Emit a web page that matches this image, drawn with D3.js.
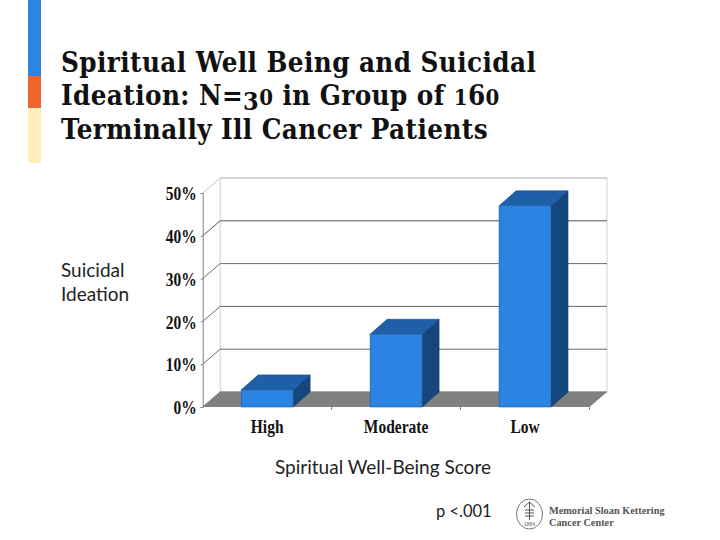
<!DOCTYPE html>
<html>
<head>
<meta charset="utf-8">
<script src="https://cdn.jsdelivr.net/npm/d3@7"></script>
<style>
  html, body { margin: 0; padding: 0; background: #fff; }
  svg { display: block; }
</style>
</head>
<body>
<script>
const categories = ["High", "Moderate", "Low"];
const values = [4, 17, 47];
const yTicks = [0, 10, 20, 30, 40, 50];
const titleLines = [
  "Spiritual Well Being and Suicidal",
  "Ideation: N=30 in Group of 160",
  "Terminally Ill Cancer Patients",
];
const yLabelLines = ["Suicidal", "Ideation"];
const xTitle = "Spiritual Well-Being Score";
const pNote = "p <.001";
const logoLines = ["Memorial Sloan Kettering", "Cancer Center"];
const logoYear = "1884";

const w = 720;
const h = 540;

const svg = d3.select("body").append("svg").attr("width", w).attr("height", h);

// side stripe
const stripe = [
  [0, 76, "#2f84dd"],
  [76, 108, "#f0652f"],
  [108, 163, "#fff0bb"],
];
svg
  .selectAll("rect.stripe")
  .data(stripe)
  .enter()
  .append("rect")
  .attr("class", "stripe")
  .attr("x", 28)
  .attr("width", 13)
  .attr("y", (d) => d[0])
  .attr("height", (d) => d[1] - d[0])
  .attr("fill", (d) => d[2]);

// title, digits are set small or dropped to look like old style figures
const title = svg
  .selectAll("text.title")
  .data(titleLines)
  .enter()
  .append("text")
  .attr("class", "title")
  .attr("x", 61)
  .attr("y", (d, i) => 72 + i * 33.3)
  .attr("font-family", "'DejaVu Serif Condensed', 'DejaVu Serif', serif")
  .attr("font-weight", "bold")
  .attr("font-size", 27.5)
  .attr("letter-spacing", 0.42)
  .attr("fill", "#111");

title.each(function (line) {
  const t = d3.select(this);
  let drop = 0;
  line.split(/(\d)/).forEach((part) => {
    if (!part) return;
    const s = t.append("tspan").text(part);
    const nextDrop = part === "3" ? 5 : 0;
    if (nextDrop !== drop) s.attr("dy", nextDrop - drop);
    drop = nextDrop;
    if (part === "0" || part === "1") s.attr("font-size", 22);
    if (part === "3") s.attr("font-size", 25);
  });
});

// scales: front plane of the 3d box
const x0 = 202.7;
const x1 = 589.5;
const xScale = d3
  .scaleBand()
  .domain(categories)
  .range([x0, x1])
  .paddingInner(0.597)
  .paddingOuter(0.2985);
const yScale = d3.scaleLinear().domain([0, 50]).range([407, 193]);

const wallDx = 17.5;
const wallDy = -15;
const barDx = 17;
const barDy = -15;

const pts = (arr) => arr.map((p) => p.join(",")).join(" ");

// squeeze the axis labels sideways, the original font is narrower
const squeeze = (sel, k) =>
  sel.each(function () {
    this.setAttribute("textLength", this.getComputedTextLength() * k);
    this.setAttribute("lengthAdjust", "spacingAndGlyphs");
  });

const chart = svg.append("g");

// back wall
chart
  .append("polygon")
  .attr("points", pts([
    [x0 + wallDx, yScale(50) + wallDy],
    [x1 + wallDx, yScale(50) + wallDy],
    [x1 + wallDx, yScale(0) + wallDy],
    [x0 + wallDx, yScale(0) + wallDy],
  ]))
  .attr("fill", "#fff")
  .attr("stroke", "#cfcfcf")
  .attr("stroke-width", 1);

// gridlines with their diagonal on the left wall
chart
  .selectAll("polyline.grid")
  .data(yTicks)
  .enter()
  .append("polyline")
  .attr("class", "grid")
  .attr("fill", "none")
  .attr("stroke", (d) => (d === 50 ? "#c4c4c4" : d === 40 ? "#555" : "#6a6a6a"))
  .attr("stroke-width", 1)
  .attr("points", (d) => pts([
    [x0, yScale(d)],
    [x0 + wallDx, yScale(d) + wallDy],
    [x1 + wallDx, yScale(d) + wallDy],
  ]));

// floor
chart
  .append("polygon")
  .attr("points", pts([
    [x0, yScale(0)],
    [x0 + wallDx, yScale(0) + wallDy],
    [x1 + wallDx, yScale(0) + wallDy],
    [x1, yScale(0)],
  ]))
  .attr("fill", "#808080");

// bars: side, top, front
const bars = chart.selectAll("g.bar").data(categories).enter().append("g").attr("class", "bar");

bars
  .append("polygon")
  .attr("fill", "#15467c")
  .attr("stroke", "#123a66")
  .attr("stroke-width", 0.6)
  .attr("points", (d, i) => {
    const r = xScale(d) + xScale.bandwidth();
    return pts([
      [r, yScale(values[i])],
      [r + barDx, yScale(values[i]) + barDy],
      [r + barDx, yScale(0) + barDy],
      [r, yScale(0)],
    ]);
  });

bars
  .append("polygon")
  .attr("fill", "#1f5fa8")
  .attr("stroke", "#174a85")
  .attr("stroke-width", 0.6)
  .attr("points", (d, i) => {
    const l = xScale(d);
    const r = l + xScale.bandwidth();
    const t = yScale(values[i]);
    return pts([
      [l, t],
      [l + barDx, t + barDy],
      [r + barDx, t + barDy],
      [r, t],
    ]);
  });

bars
  .append("rect")
  .attr("x", (d) => xScale(d))
  .attr("y", (d, i) => yScale(values[i]))
  .attr("width", xScale.bandwidth())
  .attr("height", (d, i) => yScale(0) - yScale(values[i]))
  .attr("fill", "#2b83e2")
  .attr("stroke", "#1c5ea8")
  .attr("stroke-width", 0.6);

// y axis
const yAxis = d3
  .axisLeft(yScale)
  .tickValues(yTicks)
  .tickSize(2)
  .tickPadding(4)
  .tickFormat((d) => d + "%");

const yG = svg
  .append("g")
  .attr("transform", "translate(" + x0 + ",0)")
  .call(yAxis);
yG.select(".domain").attr("stroke", "#808080");
yG.selectAll(".tick line").attr("stroke", "#808080");
yG.selectAll(".tick text")
  .attr("y", 1)
  .attr("font-family", "'Liberation Serif', serif")
  .attr("font-weight", "bold")
  .attr("font-size", 18)
  .attr("fill", "#111")
  .call(squeeze, 0.86);

// x axis, ticks sit between the categories
const xAxis = d3.axisBottom(xScale).tickSize(0).tickPadding(13);
const xG = svg
  .append("g")
  .attr("transform", "translate(0," + yScale(0) + ")")
  .call(xAxis);
xG.select(".domain").remove();
xG.selectAll(".tick text")
  .attr("font-family", "'Liberation Serif', serif")
  .attr("font-weight", "bold")
  .attr("font-size", 18)
  .attr("fill", "#111")
  .call(squeeze, 0.86);

xG.selectAll("line.sep")
  .data(categories)
  .enter()
  .append("line")
  .attr("class", "sep")
  .attr("x1", (d) => xScale(d) - xScale.step() * 0.2985 + xScale.step())
  .attr("x2", (d) => xScale(d) - xScale.step() * 0.2985 + xScale.step())
  .attr("y1", 0)
  .attr("y2", 3)
  .attr("stroke", "#808080");

// axis captions
svg
  .selectAll("text.ylab")
  .data(yLabelLines)
  .enter()
  .append("text")
  .attr("class", "ylab")
  .attr("x", 61)
  .attr("y", (d, i) => 277 + i * 24)
  .attr("font-family", "Lato, sans-serif")
  .attr("font-size", 19)
  .attr("fill", "#222")
  .text((d) => d);

svg
  .append("text")
  .attr("x", 275)
  .attr("y", 474)
  .attr("font-family", "Lato, sans-serif")
  .attr("font-size", 19)
  .attr("fill", "#222")
  .text(xTitle);

svg
  .append("text")
  .attr("x", 436)
  .attr("y", 517)
  .attr("font-family", "Lato, sans-serif")
  .attr("font-size", 16.5)
  .attr("fill", "#222")
  .text(pNote);

// logo
const logo = svg.append("g");
logo
  .append("ellipse")
  .attr("cx", 529.5)
  .attr("cy", 514)
  .attr("rx", 13)
  .attr("ry", 15)
  .attr("fill", "none")
  .attr("stroke", "#777")
  .attr("stroke-width", 1);
logo
  .append("path")
  .attr("d", "M524 507 L529.5 502 L535 507 M529.5 502 V520 M525 510 H534 M525 513 H534 M525 516 H534")
  .attr("fill", "none")
  .attr("stroke", "#555")
  .attr("stroke-width", 1);
logo
  .append("text")
  .attr("x", 529.5)
  .attr("y", 526)
  .attr("text-anchor", "middle")
  .attr("font-family", "'Liberation Sans', sans-serif")
  .attr("font-size", 5)
  .attr("fill", "#666")
  .text(logoYear);
logo
  .selectAll("text.name")
  .data(logoLines)
  .enter()
  .append("text")
  .attr("class", "name")
  .attr("x", 549)
  .attr("y", (d, i) => 514 + i * 11.5)
  .attr("font-family", "'Liberation Serif', serif")
  .attr("font-size", 10.3)
  .attr("font-weight", "bold")
  .attr("fill", "#555")
  .text((d) => d);
</script>
</body>
</html>
